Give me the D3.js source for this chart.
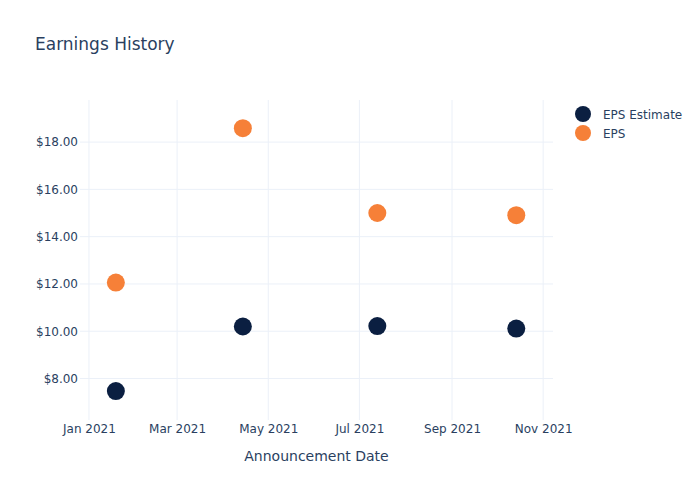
<!DOCTYPE html>
<html>
<head>
<meta charset="utf-8">
<script src="https://cdn.jsdelivr.net/npm/d3@7"></script>
<style>
  body { margin: 0; background: #fff; }
  text { font-family: "DejaVu Sans", "Open Sans", sans-serif; fill: #2a3f5f; }
</style>
</head>
<body>
<div id="chart"></div>
<script>
// Data
var dates = ["2021-01-19", "2021-04-14", "2021-07-13", "2021-10-14"];
var epsEstimate = [7.47, 10.20, 10.22, 10.11];
var eps = [12.06, 18.59, 15.00, 14.91];
var seriesNames = ["EPS Estimate", "EPS"];
var seriesColors = ["#0b1f41", "#f68038"];
var yTicks = [8, 10, 12, 14, 16, 18];

var width = 700;
var height = 500;
var margin = { top: 100, right: 147, bottom: 80, left: 80 };

var svg = d3.select("#chart")
  .append("svg")
  .attr("width", width)
  .attr("height", height);

var parse = d3.timeParse("%Y-%m-%d");

var xScale = d3.scaleTime()
  .domain([new Date(2020, 11, 26), new Date(2021, 10, 7, 14)])
  .range([margin.left, width - margin.right]);

var yScale = d3.scaleLinear()
  .domain([6.245, 19.78])
  .range([height - margin.bottom, margin.top]);

var xTicks = d3.range(0, 11, 2).map(function(m) { return new Date(2021, m, 1); });

// grid lines
svg.append("g")
  .selectAll("line.xg")
  .data(xTicks)
  .enter()
  .append("line")
  .attr("x1", function(d) { return xScale(d); })
  .attr("x2", function(d) { return xScale(d); })
  .attr("y1", margin.top)
  .attr("y2", height - margin.bottom)
  .attr("stroke", "#ebf0f8")
  .attr("stroke-width", 1);

svg.append("g")
  .selectAll("line.yg")
  .data(yTicks)
  .enter()
  .append("line")
  .attr("x1", margin.left)
  .attr("x2", width - margin.right)
  .attr("y1", function(d) { return yScale(d); })
  .attr("y2", function(d) { return yScale(d); })
  .attr("stroke", "#ebf0f8")
  .attr("stroke-width", 1);

// axes (no domain lines, no tick marks)
var xAxis = d3.axisBottom(xScale)
  .tickValues(xTicks)
  .tickSize(0)
  .tickPadding(4)
  .tickFormat(d3.timeFormat("%b %Y"));

var yAxis = d3.axisLeft(yScale)
  .tickValues(yTicks)
  .tickSize(0)
  .tickPadding(2)
  .tickFormat(function(d) { return "$" + d3.format(".2f")(d); });

var gx = svg.append("g")
  .attr("transform", "translate(0," + (height - margin.bottom) + ")")
  .call(xAxis);
var gy = svg.append("g")
  .attr("transform", "translate(" + margin.left + ",0)")
  .call(yAxis);

[gx, gy].forEach(function(g) {
  g.select(".domain").remove();
  g.selectAll("text")
    .attr("font-family", null)
    .style("font-size", "12px")
    .style("fill", "#2a3f5f");
});

// points
var series = [epsEstimate, eps];
series.forEach(function(vals, i) {
  svg.append("g")
    .selectAll("circle")
    .data(vals)
    .enter()
    .append("circle")
    .attr("cx", function(d, j) { return xScale(parse(dates[j])); })
    .attr("cy", function(d) { return yScale(d); })
    .attr("r", 9)
    .attr("fill", seriesColors[i]);
});

// title
svg.append("text")
  .attr("x", 35)
  .attr("y", 50)
  .style("font-size", "17px")
  .text("Earnings History");

// x axis title
svg.append("text")
  .attr("x", (margin.left + width - margin.right) / 2)
  .attr("y", 461)
  .attr("text-anchor", "middle")
  .style("font-size", "14px")
  .text("Announcement Date");

// legend
var legend = svg.append("g").attr("transform", "translate(583,114)");
seriesNames.forEach(function(name, i) {
  legend.append("circle")
    .attr("cx", 0)
    .attr("cy", i * 19)
    .attr("r", 8)
    .attr("fill", seriesColors[i]);
  legend.append("text")
    .attr("x", 20)
    .attr("y", i * 19 + 4.5)
    .style("font-size", "12px")
    .text(name);
});
</script>
</body>
</html>
